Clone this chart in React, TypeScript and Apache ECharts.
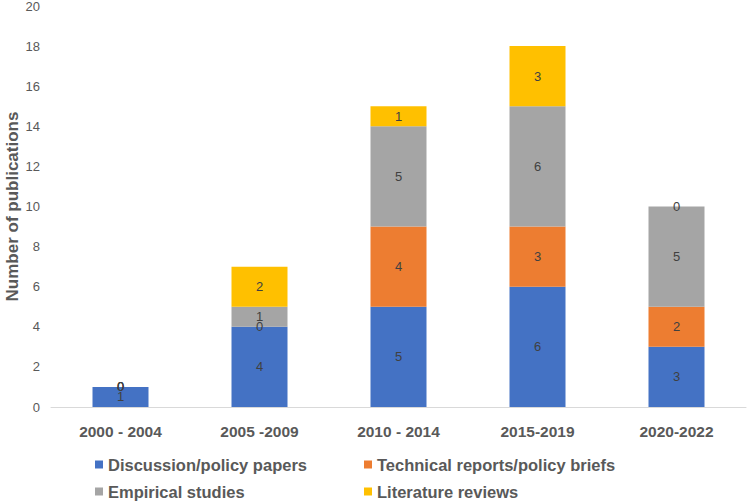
import React, { useEffect, useRef } from "react";
import * as echarts from "echarts";

const categories = ["2000 - 2004", "2005 -2009", "2010 - 2014", "2015-2019", "2020-2022"];
const discussion = [1, 4, 5, 6, 3];
const technical = [0, 0, 4, 3, 2];
const empirical = [0, 1, 5, 6, 5];
const literature = [0, 2, 1, 3, 0];
const seriesNames = [
  "Discussion/policy papers",
  "Technical reports/policy briefs",
  "Empirical studies",
  "Literature reviews",
];
const colors = ["#4472C4", "#ED7D31", "#A5A5A5", "#FFC000"];

const FONT = "Liberation Sans, Arial, sans-serif";

export default function App() {
  const ref = useRef<HTMLDivElement>(null);
  useEffect(() => {
    if (!ref.current) return;
    const chart = echarts.init(ref.current, null, { renderer: "svg" });
    const datasets = [discussion, technical, empirical, literature];
    const legendPos = [
      { left: 95, top: 456 },
      { left: 364, top: 456 },
      { left: 95, top: 483 },
      { left: 364, top: 483 },
    ];
    chart.setOption({
      animation: false,
      grid: { left: 51, right: 3, top: 6, bottom: 97, outerBoundsMode: "none", containLabel: false },
      legend: seriesNames.map((n, i) => ({
        data: [n],
        left: legendPos[i].left,
        top: legendPos[i].top,
        icon: "rect",
        itemWidth: 8,
        itemHeight: 8,
        itemGap: 4,
        padding: 0,
        textStyle: { color: "#595959", fontSize: 16.5, fontWeight: "bold", fontFamily: FONT },
      })),
      xAxis: {
        type: "category",
        data: categories,
        axisLine: { lineStyle: { color: "#D9D9D9" } },
        axisTick: { show: false },
        axisLabel: {
          color: "#595959",
          fontSize: 15.5,
          fontWeight: "bold",
          margin: 16,
          fontFamily: FONT,
        },
      },
      yAxis: {
        type: "value",
        min: 0,
        max: 20,
        interval: 2,
        name: "Number of publications",
        nameLocation: "middle",
        nameGap: 30,
        nameMoveOverlap: false,
        nameTextStyle: { color: "#595959", fontSize: 17, fontWeight: "bold", fontFamily: FONT },
        splitLine: { show: false },
        axisLine: { show: false },
        axisTick: { show: false },
        axisLabel: { color: "#595959", fontSize: 13, margin: 11, fontFamily: FONT },
      },
      series: seriesNames.map((n, i) => ({
        name: n,
        type: "bar",
        stack: "total",
        barWidth: 56,
        data: datasets[i],
        itemStyle: { color: colors[i] },
        label: {
          show: true,
          position: "inside",
          color: "#404040",
          fontSize: 13,
          fontFamily: FONT,
        },
      })),
    });
    return () => chart.dispose();
  }, []);
  return (
    <div
      ref={ref}
      style={{ position: "fixed", left: 0, top: 0, width: 749, height: 504, background: "#fff" }}
    />
  );
}
